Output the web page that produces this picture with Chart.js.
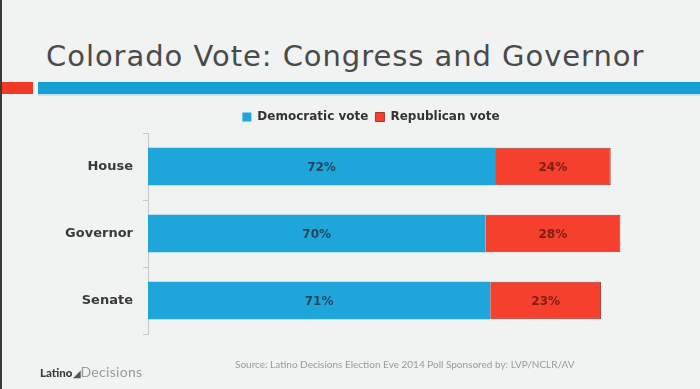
<!DOCTYPE html>
<html>
<head>
<meta charset="utf-8">
<script src="https://cdn.jsdelivr.net/npm/chart.js@4.4.1/dist/chart.umd.min.js"></script>
<style>
  html, body { margin: 0; padding: 0; }
  body { width: 700px; height: 389px; background: #f1f3f2; position: relative; overflow: hidden; }
  #edge { position: absolute; left: 0; top: 0; width: 2px; height: 389px; background: #3a3a3a; }
  #title { position: absolute; left: 46px; top: 42px; font: 29px "DejaVu Sans", sans-serif; letter-spacing: 0.95px; line-height: 29px; color: #4a4a4a; white-space: nowrap; }
  #redBar { position: absolute; left: 2px; top: 82px; width: 31px; height: 12px; background: #f03a26; }
  #blueBar { position: absolute; left: 38px; top: 82px; width: 662px; height: 12px; background: #17a0d3; border-bottom: 2px solid #bfe6f4; }
  #logo { position: absolute; left: 40px; top: 363px; font: 14px Lato, sans-serif; white-space: nowrap; }
  #logo b { color: #3d3d3d; font-size: 11.5px; font-weight: 900; }
  #logo i { font-style: normal; color: #555; font-size: 10px; }
  #logo span { color: #9a9a9a; letter-spacing: 0.3px; }
  #source { position: absolute; left: 235px; top: 358px; font: 10px Lato, sans-serif; color: #9a9a9a; white-space: nowrap; }
  #wrap { position: absolute; left: 0; top: 0; width: 700px; height: 389px; }
</style>
</head>
<body>
<div id="edge"></div>
<div id="title">Colorado Vote: Congress and Governor</div>
<div id="redBar"></div>
<div id="blueBar"></div>
<div id="wrap"><canvas id="chartCanvas"></canvas></div>
<div id="logo"><b>Latino</b><i>◢</i><span>Decisions</span></div>
<div id="source">Source: Latino Decisions Election Eve 2014 Poll Sponsored by: LVP/NCLR/AV</div>
<script>
// data
const races = ["House", "Governor", "Senate"];
const demVote = [72, 70, 71];
const repVote = [24, 28, 23];

const demBlue = "#1ea6da";
const repRed = "#f4402c";

// percentage labels in the middle of every bar piece
const barLabels = {
  id: "barLabels",
  afterDatasetsDraw(chart) {
    const ctx = chart.ctx;
    ctx.save();
    ctx.font = "bold 12px 'DejaVu Sans', sans-serif";
    ctx.textAlign = "center";
    ctx.textBaseline = "middle";
    chart.data.datasets.forEach((ds, i) => {
      const meta = chart.getDatasetMeta(i);
      meta.data.forEach((bar, j) => {
        const p = bar.getCenterPoint();
        ctx.fillStyle = i === 0 ? "#24465a" : "#7b1e14";
        ctx.fillText(ds.data[j] + "%", p.x, p.y + 1);
      });
    });
    ctx.restore();
  }
};

// the slide's legend sits a bit right of the canvas centre
const legendShift = {
  id: "legendShift",
  afterLayout(chart) {
    chart.legend.left += 56;
    chart.legend.right += 56;
  }
};

const ctx = document.getElementById("chartCanvas").getContext("2d");
new Chart(ctx, {
  type: "bar",
  data: {
    labels: races,
    datasets: [
      {
        label: "Democratic vote",
        data: demVote,
        backgroundColor: demBlue,
        borderColor: demBlue,
        borderWidth: 0
      },
      {
        label: "Republican vote",
        data: repVote,
        backgroundColor: repRed,
        borderColor: "#9e3a30",
        borderWidth: 1
      }
    ]
  },
  options: {
    indexAxis: "y",
    responsive: true,
    maintainAspectRatio: false,
    animation: false,
    barPercentage: 0.56,
    categoryPercentage: 1,
    layout: { padding: { top: 104, right: 70, bottom: 55, left: 0 } },
    plugins: {
      tooltip: { enabled: false },
      legend: {
        position: "top",
        labels: {
          boxWidth: 9,
          boxHeight: 9,
          padding: 7,
          color: "#333",
          font: { family: "'DejaVu Sans', sans-serif", size: 12, weight: "bold" }
        }
      }
    },
    scales: {
      x: { stacked: true, min: 0, max: 100, display: false },
      y: {
        stacked: true,
        afterFit(scale) { scale.width = 148; },
        border: { color: "#c8c8c8" },
        grid: { drawOnChartArea: false, offset: true, tickLength: 5, color: "#c8c8c8" },
        ticks: {
          color: "#3a3a3a",
          padding: 10,
          font: { family: "'DejaVu Sans', sans-serif", size: 13, weight: "bold" }
        }
      }
    }
  },
  plugins: [barLabels, legendShift]
});
</script>
</body>
</html>
